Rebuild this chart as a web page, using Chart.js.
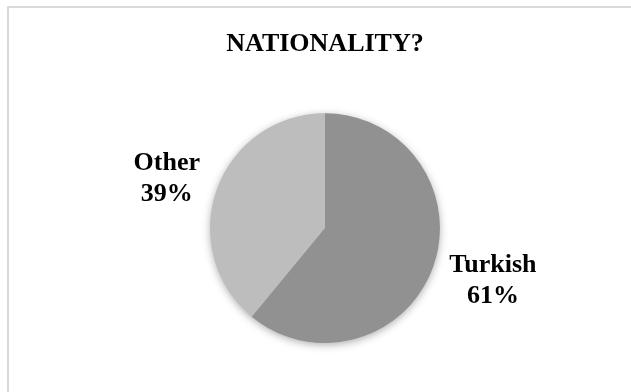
<!DOCTYPE html>
<html>
<head>
<meta charset="utf-8">
<script src="https://cdn.jsdelivr.net/npm/chart.js@4"></script>
<style>
  html, body { margin: 0; padding: 0; background: #fff; }
  #wrap { width: 631px; height: 392px; position: relative; }
</style>
</head>
<body>
<div id="wrap"><canvas id="c" width="631" height="392"></canvas></div>
<script>
const chartTitle = 'NATIONALITY?';
const categories = ['Turkish', 'Other'];
const shares = [61, 39];
const sliceColors = ['#919191', '#bdbdbd'];

const FONT = "'Liberation Serif', 'Times New Roman', serif";

const frameAndShadow = {
  id: 'frameAndShadow',
  beforeDraw(chart) {
    const ctx = chart.ctx;
    ctx.save();
    ctx.fillStyle = '#ffffff';
    ctx.fillRect(0, 0, chart.width, chart.height);
    ctx.fillStyle = '#d9d9d9';
    ctx.fillRect(7, 6, chart.width - 7, 2);
    ctx.fillRect(7, 6, 2, chart.height - 6);
    ctx.restore();
  },
  beforeDatasetsDraw(chart) {
    const meta = chart.getDatasetMeta(0);
    if (!meta.data.length) return;
    const arc = meta.data[0];
    const ctx = chart.ctx;
    ctx.save();
    ctx.shadowColor = 'rgba(0,0,0,0.35)';
    ctx.shadowBlur = 9;
    ctx.shadowOffsetY = 2;
    ctx.fillStyle = '#a0a0a0';
    ctx.beginPath();
    ctx.arc(arc.x, arc.y, arc.outerRadius - 0.5, 0, Math.PI * 2);
    ctx.fill();
    ctx.restore();
  }
};

const sliceLabels = {
  id: 'sliceLabels',
  afterDatasetsDraw(chart) {
    const meta = chart.getDatasetMeta(0);
    const ctx = chart.ctx;
    const total = shares.reduce((a, b) => a + b, 0);
    ctx.save();
    ctx.font = 'bold 26px ' + FONT;
    ctx.fillStyle = '#000';
    ctx.textAlign = 'center';
    ctx.textBaseline = 'middle';
    const lh = 31;
    meta.data.forEach((arc, i) => {
      const mid = (arc.startAngle + arc.endAngle) / 2;
      const dx = Math.cos(mid), dy = Math.sin(mid);
      const lines = [categories[i], Math.round(shares[i] / total * 100) + '%'];
      const w = Math.max(...lines.map(l => ctx.measureText(l).width));
      const h = lh * lines.length;
      const d = arc.outerRadius + 20;
      const cx = arc.x + dx * (d + w / 2);
      const cy = arc.y + dy * (d + h / 4) + 2;
      lines.forEach((l, k) => {
        ctx.fillText(l, cx, cy - h / 2 + lh / 2 + k * lh);
      });
    });
    ctx.restore();
  }
};

new Chart(document.getElementById('c'), {
  type: 'pie',
  data: {
    labels: categories,
    datasets: [{
      data: shares,
      backgroundColor: sliceColors,
      borderWidth: 0
    }]
  },
  options: {
    responsive: false,
    animation: false,
    layout: { padding: { left: 100, right: 81, top: 0, bottom: 49 } },
    plugins: {
      legend: { display: false },
      tooltip: { enabled: false },
      title: {
        display: true,
        text: chartTitle,
        color: '#000',
        font: { family: FONT, size: 26, weight: 'bold', lineHeight: 1.2 },
        padding: { top: 29, bottom: 53 }
      }
    }
  },
  plugins: [frameAndShadow, sliceLabels]
});
</script>
</body>
</html>
